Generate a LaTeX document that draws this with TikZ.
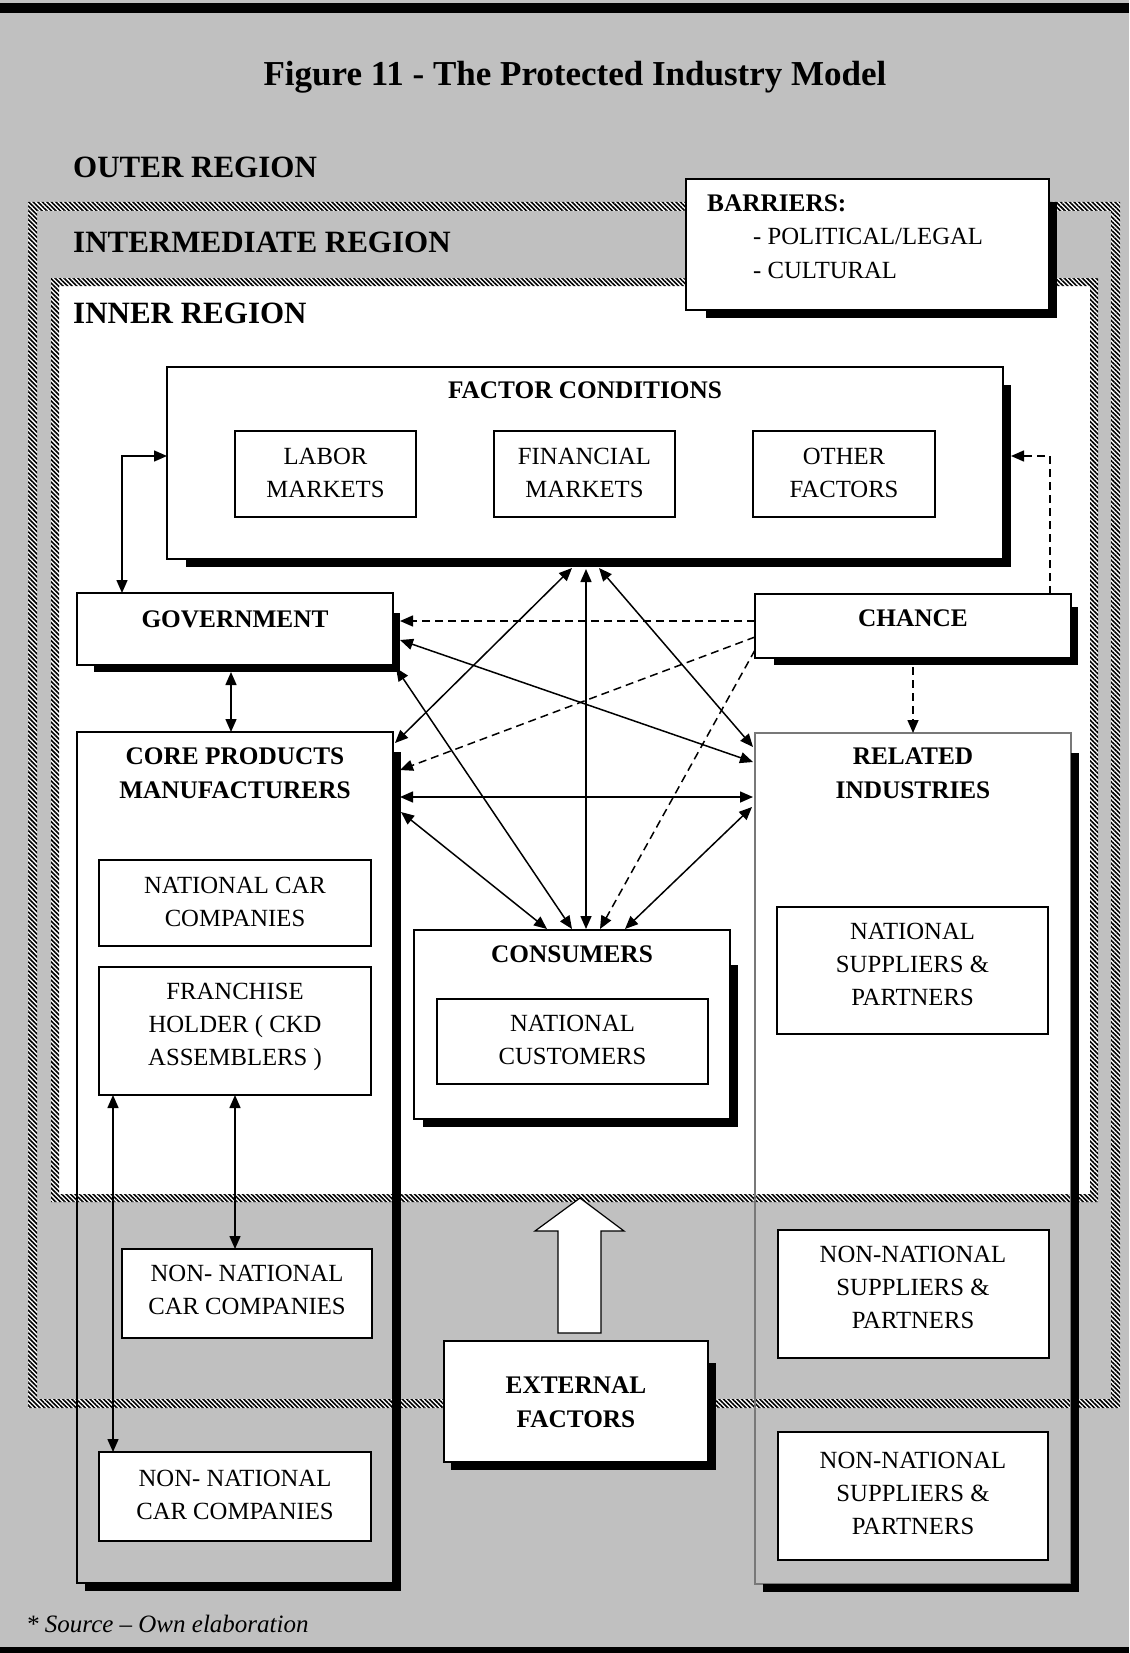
\documentclass[tikz,border=0pt]{standalone}
\usepackage{fontspec}
\setmainfont{Liberation Serif}
\usetikzlibrary{arrows.meta,calc,patterns.meta}
\definecolor{pagegray}{RGB}{192,192,192}
\definecolor{edgegray}{RGB}{120,120,120}
\newcommand\fTitle{\fontsize{35}{40}\selectfont\bfseries}
\newcommand\fRegion{\fontsize{31}{36}\selectfont\bfseries}
\newcommand\fHead{\fontsize{25.3}{34}\selectfont\bfseries}
\newcommand\fBody{\fontsize{24.7}{33}\selectfont}
\newcommand\fNote{\fontsize{25}{30}\selectfont\itshape}
% L-shaped drop shade to the right of and below a box
\newcommand\castL[4]{%
  \fill[black] ($(#1.north east)+(0,#3)$) rectangle ($(#1.south east)+(#4,#4)$);
  \fill[black] ($(#1.south west)+(#2,0)$) rectangle ($(#1.south east)+(#4,#4)$);}
\begin{document}
\begin{tikzpicture}[x=1pt,y=-1pt,
  box/.style={draw=black, line width=2pt, inner sep=0pt, outer sep=0pt, anchor=north west},
  wbox/.style={box, fill=white},
  region/.style={font=\fRegion, inner sep=0pt},
  head/.style={font=\fHead, inner sep=0pt, align=center},
  body/.style={font=\fBody, inner sep=0pt, align=center},
  tip/.tip={Triangle[length=13pt,width=11pt]},
  link/.style={line width=1.5pt, tip-tip},
  hint/.style={line width=1.5pt, dash pattern=on 8pt off 5pt, -tip},
  hatch/.style={pattern={Lines[angle=-45,distance=3.2pt,line width=1.6pt]}, pattern color=black}
]
\useasboundingbox (0,0) rectangle (1129,1653);
% page
\fill[pagegray] (0,0) rectangle (1129,1653);
\fill[black] (0,3) rectangle (1129,13);
\fill[black] (0,1647) rectangle (1129,1653);

% intermediate region frame
\fill[white, even odd rule] (28,202) rectangle (1120,1408) (37,211) rectangle (1111,1399);
\fill[hatch, even odd rule] (28,202) rectangle (1120,1408) (37,211) rectangle (1111,1399);
% inner region
\fill[white] (51,278) rectangle (1098,1202);
\fill[hatch, even odd rule] (51,278) rectangle (1098,1202) (59,286) rectangle (1090,1194);

% title and region labels
\node[font=\fTitle, inner sep=0pt, anchor=base] (title) at (575,86) {Figure 11 - The Protected Industry Model};
\node[region, anchor=base west] (outerlbl) at (73,178) {OUTER REGION};
\node[region, anchor=base west] (midlbl) at (73,252) {INTERMEDIATE REGION};
\node[region, anchor=base west] (innerlbl) at (73,323) {INNER REGION};

% barriers
\node[wbox, minimum width=363pt, minimum height=131pt] (barriers) at (686,179) {};
\castL{barriers}{20}{23}{8}
\node[head, anchor=base west] (barhd) at (707,212) {BARRIERS:};
\node[body, anchor=base west] (barpol) at (753,245) {- POLITICAL/LEGAL};
\node[body, anchor=base west] (barcul) at (753,278) {- CULTURAL};

% factor conditions
\node[wbox, minimum width=836pt, minimum height=192pt] (factor) at (167,367) {};
\castL{factor}{19}{18}{8}
\node[head, anchor=base] (factorlbl) at (585,398) {FACTOR CONDITIONS};
\node[box, minimum width=181pt, minimum height=86pt] (labor) at (235,431) {};
\node[box, minimum width=181pt, minimum height=86pt] (finance) at (494,431) {};
\node[box, minimum width=182pt, minimum height=86pt] (other) at (753,431) {};
\node[body, anchor=north] (labortxt) at (325.5,448) {LABOR\\MARKETS};
\node[body, anchor=north] (financetxt) at (584.5,448) {FINANCIAL\\MARKETS};
\node[body, anchor=north] (othertxt) at (844,448) {OTHER\\FACTORS};

% government and chance
\node[wbox, minimum width=316pt, minimum height=72pt] (gov) at (77,593) {};
\castL{gov}{17}{20}{7}
\node[head, anchor=base] (govlbl) at (235,627) {GOVERNMENT};
\node[wbox, minimum width=316pt, minimum height=64pt] (chance) at (755,594) {};
\castL{chance}{19}{13}{7}
\node[head, anchor=base] (chancelbl) at (913,626) {CHANCE};

% core products manufacturers
\node[box, minimum width=316pt, minimum height=851pt] (core) at (77,732) {};
\castL{core}{8}{20}{8}
\node[head, anchor=north] (corelbl) at (235,748) {CORE PRODUCTS\\MANUFACTURERS};
\node[wbox, minimum width=272pt, minimum height=86pt] (natcar) at (99,860) {};
\node[body, anchor=north] (natcartxt) at (235,877) {NATIONAL CAR\\COMPANIES};
\node[wbox, minimum width=272pt, minimum height=128pt] (franch) at (99,967) {};
\node[body, anchor=north] (franchtxt) at (235,983) {FRANCHISE\\HOLDER ( CKD\\ASSEMBLERS )};
\node[wbox, minimum width=250pt, minimum height=89pt] (nncarA) at (122,1249) {};
\node[body, anchor=north] (nncarAtxt) at (247,1265) {NON- NATIONAL\\CAR COMPANIES};
\node[wbox, minimum width=272pt, minimum height=89pt] (nncarB) at (99,1452) {};
\node[body, anchor=north] (nncarBtxt) at (235,1470) {NON- NATIONAL\\CAR COMPANIES};

% related industries
\node[box, draw=edgegray, line width=1.2pt, minimum width=316pt, minimum height=851pt] (related) at (755,733) {};
\castL{related}{8}{20}{8}
\node[head, anchor=north] (relatedlbl) at (913,748) {RELATED\\INDUSTRIES};
\node[wbox, minimum width=271pt, minimum height=127pt] (natsup) at (777,907) {};
\node[body, anchor=north] (natsuptxt) at (912.5,923) {NATIONAL\\SUPPLIERS \&\\PARTNERS};
\node[wbox, minimum width=271pt, minimum height=128pt] (nnsupA) at (778,1230) {};
\node[body, anchor=north] (nnsupAtxt) at (913,1246) {NON-NATIONAL\\SUPPLIERS \&\\PARTNERS};
\node[wbox, minimum width=270pt, minimum height=128pt] (nnsupB) at (778,1432) {};
\node[body, anchor=north] (nnsupBtxt) at (913,1452) {NON-NATIONAL\\SUPPLIERS \&\\PARTNERS};

% consumers
\node[wbox, minimum width=316pt, minimum height=189pt] (consumers) at (414,930) {};
\castL{consumers}{9}{35}{8}
\node[head, anchor=base] (consumerslbl) at (572,962) {CONSUMERS};
\node[box, minimum width=271pt, minimum height=85pt] (natcust) at (437,999) {};
\node[body, anchor=north] (natcusttxt) at (572.5,1015) {NATIONAL\\CUSTOMERS};

% external factors and the block arrow into the inner region
\draw[line width=1.2pt, fill=white] (580,1198) -- (624,1231) -- (601,1231) -- (601,1333)
  -- (558,1333) -- (558,1231) -- (535,1231) -- cycle;
\node[wbox, minimum width=264pt, minimum height=121pt] (external) at (444,1341) {};
\castL{external}{7}{22}{8}
\node[head, anchor=north] (externallbl) at (576,1377) {EXTERNAL\\FACTORS};

% connectors
\draw[link] ($(factor.south)+(-13,9)$) -- ($(core.north east)+(2,11)$);
\draw[link] ($(factor.south)+(1,10)$) -- ($(consumers.north)+(14,-1)$);
\draw[link] ($(factor.south)+(14,9)$) -- ($(related.north west)+(-2,14)$);
\draw[link] ($(gov.south east)+(3,3)$) -- ($(consumers.north)+(0,-1)$);
\draw[link] ($(gov.north east)+(7,47)$) -- ($(related.north west)+(-2,29)$);
\draw[hint] ($(chance.north west)+(0,27)$) -- ($(gov.north east)+(7,28)$);
\draw[hint] ($(chance.north west)+(0,43)$) -- ($(core.north east)+(7,38)$);
\draw[link] ($(core.north east)+(7,65)$) -- ($(related.north west)+(-2,64)$);
\draw[link] ($(core.north east)+(8,80)$) -- ($(consumers.north)+(-25,-1)$);
\draw[hint] ($(chance.north west)+(0,56)$) -- ($(consumers.north)+(28,-1)$);
\draw[link] ($(related.north west)+(-3,74)$) -- ($(consumers.north)+(53,-1)$);
\draw[link] ($(gov.north west)+(45,0)$) |- ($(factor.north west)+(0,89)$);
\draw[hint] ($(chance.north east)+(-21,0)$) |- ($(factor.north east)+(8,89)$);
\draw[link] ($(gov.south)+(-4,7)$) -- ($(core.north)+(-4,0)$);
\draw[hint] ($(chance.south)+(0,9)$) -- (related.north);
\draw[link] ($(franch.south west)+(14,0)$) -- ($(nncarB.north west)+(14,0)$);
\draw[link] (franch.south) -- (franch.south |- nncarA.north);

% source note
\node[font=\fNote, inner sep=0pt, anchor=base west] (source) at (26,1632) {* Source – Own elaboration};
\end{tikzpicture}
\end{document}
